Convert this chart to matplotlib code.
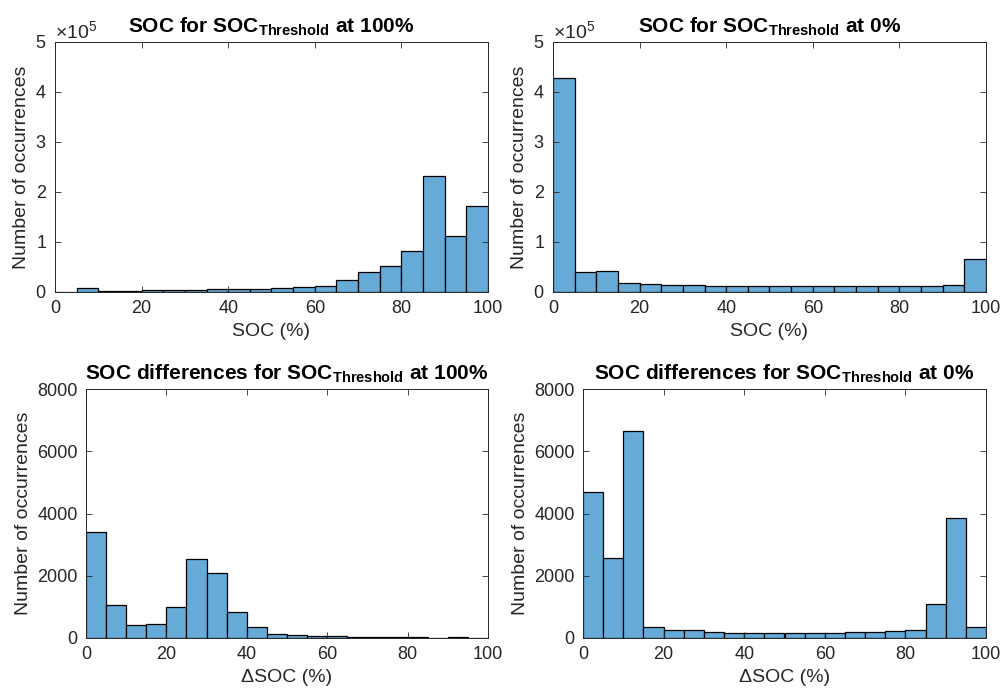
import numpy as np
import matplotlib
matplotlib.use("Agg")
import matplotlib.pyplot as plt
from matplotlib.ticker import ScalarFormatter

plt.rcParams["font.family"] = ["Liberation Sans", "DejaVu Sans"]
plt.rcParams["mathtext.fontset"] = "custom"
plt.rcParams["mathtext.rm"] = "Liberation Sans"
plt.rcParams["mathtext.bf"] = "Liberation Sans:bold"
plt.rcParams["mathtext.it"] = "Liberation Sans:italic"

# histogram bin edges (5 % wide)
edges = np.arange(0, 105, 5)

# SOC, threshold 100 %
soc_thr100 = [1000, 8000, 3000, 3000, 3500, 4500, 5000, 6000, 6500, 7000,
              8000, 10000, 13000, 25000, 40000, 53000, 83000, 232000, 112000, 173000]
# SOC, threshold 0 %
soc_thr0 = [428000, 41000, 43000, 19000, 17000, 15000, 14500, 13000, 13000, 12000,
            12000, 12000, 12000, 12000, 12000, 12000, 12000, 12000, 14000, 67000]
# delta SOC, threshold 100 %
dsoc_thr100 = [3400, 1050, 430, 460, 1010, 2540, 2090, 850, 365, 140,
               110, 75, 55, 40, 35, 20, 25, 15, 30, 10]
# delta SOC, threshold 0 %
dsoc_thr0 = [4690, 2585, 6645, 365, 270, 245, 205, 150, 170, 170,
             155, 175, 175, 195, 185, 235, 245, 1105, 3860, 365]

face = "#66aad7"
axcol = "#262626"

fig = plt.figure(figsize=(10.04, 7.0), dpi=100)
W, H = 1004, 700


def make_ax(l, r, t, b):
    return fig.add_axes([l / W, 1 - b / H, (r - l) / W, (b - t) / H])


panels = [
    (make_ax(55, 488, 42, 292), soc_thr100, r"SOC for SOC$_{\mathbf{Threshold}}$ at 100%", "SOC (%)", 5e5, 1e5),
    (make_ax(553, 986, 42, 292), soc_thr0, r"SOC for SOC$_{\mathbf{Threshold}}$ at 0%", "SOC (%)", 5e5, 1e5),
    (make_ax(86, 488, 389, 638), dsoc_thr100, r"SOC differences for SOC$_{\mathbf{Threshold}}$ at 100%", "ΔSOC (%)", 8000, 2000),
    (make_ax(583, 986, 389, 638), dsoc_thr0, r"SOC differences for SOC$_{\mathbf{Threshold}}$ at 0%", "ΔSOC (%)", 8000, 2000),
]

for ax, counts, title, xlabel, ymax, ystep in panels:
    ax.bar(edges[:-1], counts, width=5, align="edge", color=face,
           edgecolor="black", linewidth=0.9)
    ax.set_xlim(0, 100)
    ax.set_ylim(0, ymax)
    ax.set_xticks(np.arange(0, 101, 20))
    ax.set_yticks(np.arange(0, ymax + 1, ystep))
    ax.tick_params(direction="in", top=True, right=True, length=4,
                   width=0.6, labelsize=13, colors=axcol, pad=6)
    for s in ax.spines.values():
        s.set_color(axcol)
        s.set_linewidth(0.7)
    ax.set_xlabel(xlabel, fontsize=14, color=axcol, labelpad=4)
    ax.set_ylabel("Number of occurrences", fontsize=14, color=axcol, labelpad=4)
    ax.set_title(title, fontsize=15, fontweight="bold", pad=7)
    if ymax > 1e4:
        fmt = ScalarFormatter(useMathText=True)
        fmt.set_powerlimits((0, 0))
        ax.yaxis.set_major_formatter(fmt)
        ax.yaxis.get_offset_text().set_fontsize(14)
        ax.yaxis.get_offset_text().set_color(axcol)

fig.savefig("out.png", dpi=100)
